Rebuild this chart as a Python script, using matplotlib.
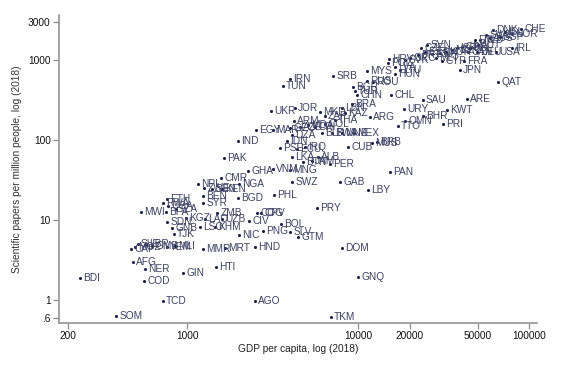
import matplotlib
matplotlib.use("Agg")
import matplotlib.pyplot as plt
from matplotlib.ticker import FixedLocator, FixedFormatter, NullLocator

plt.rcParams['font.family'] = ['Liberation Sans', 'DejaVu Sans']

# country codes, GDP per capita (2018), scientific papers per million people (2018)
codes = ["BDI", "SOM", "TCD", "COD", "NER", "AFG", "GIN", "HTI", "MMR", "MRT",
         "HND", "DOM", "GNQ", "AGO", "TKM", "CAF", "MOZ", "SLE", "LBR", "GMB",
         "YEM", "MLI", "ETH", "MWI", "RWA", "UGA", "TZA", "BFA", "ZMB", "SDN",
         "GNB", "TJK", "LSO", "KHM", "KGZ", "LAO", "UZB", "CIV", "COG", "CPV",
         "NIC", "PNG", "BOL", "SLV", "GTM", "PRY", "PHL", "SWZ", "GAB", "LBY",
         "PAN", "VNM", "MNG", "GHA", "CMR", "NGA", "NPL", "ZWE", "SEN", "KEN",
         "BEN", "SYR", "BGD", "PAK", "IND", "LKA", "BTN", "JAM", "ALB", "PER",
         "IDN", "PSE", "ECU", "IRQ", "CUB", "MUS", "BRB", "DZA", "EGY", "MAR",
         "GEO", "AZE", "MDA", "CRI", "COL", "ARM", "THA", "BLR", "BWA", "MNE",
         "MEX", "ZAF", "MKD", "LBN", "KAZ", "BRA", "ARG", "UKR", "JOR", "IRN",
         "TUN", "SRB", "MYS", "RUS", "ROU", "BGR", "TUR", "CHN", "CHL", "SAU",
         "ARE", "QAT", "URY", "KWT", "OMN", "BHR", "TTO", "PRI", "JPN", "FRA",
         "IRL", "CHE", "DNK", "SWE", "SGP", "NOR", "NLD", "AUS", "FIN", "ISL",
         "AUT", "BEL", "DEU", "USA", "GBR", "CAN", "NZL", "ISR", "KOR", "ITA",
         "ESP", "CYP", "SVN", "CZE", "EST", "PRT", "GRC", "MLT", "SVK", "HRV",
         "POL", "LVA", "LTU", "HUN"]

gdp = [237, 385, 724, 561, 568, 483, 947, 1478, 1240, 1667,
       2500, 8050, 10000, 2500, 6950, 471, 496, 516, 575, 623,
       764, 851, 764, 538, 724, 775, 863, 754, 1498, 764,
       817, 840, 1191, 1458, 987, 1275, 1602, 2306, 2564, 2710,
       2014, 2780, 3548, 4000, 4457, 5757, 3228, 4111, 7855, 11430,
       15380, 3185, 4000, 2275, 1580, 2014, 1160, 1257, 1400, 1602,
       1240, 1240, 1988, 1645, 1988, 4111, 4768, 5387, 5834, 6855,
       3845, 3497, 4397, 4898, 8750, 12080, 12900, 4111, 2534, 3185,
       4000, 4580, 5110, 5610, 6410, 4227, 7330, 6150, 7050, 8050,
       9480, 6410, 5995, 8050, 8400, 9230, 11750, 3098, 4285, 4000,
       3637, 7145, 11300, 11300, 12250, 9350, 9600, 9860, 15600, 23990,
       43350, 65900, 18580, 33150, 18840, 23990, 17130, 31400, 39450, 41720,
       79600, 89800, 61500, 56100, 67600, 79600, 51600, 59100, 48300, 72400,
       50350, 45200, 49650, 64100, 40550, 43950, 35480, 37930, 32700, 30190,
       27100, 30980, 25360, 23360, 24680, 22450, 20160, 28580, 18840, 15170,
       14960, 16430, 17620, 16430]

papers = [1.88, 0.63, 0.97, 1.73, 2.44, 2.99, 2.18, 2.59, 4.34, 4.47,
          4.60, 4.47, 1.94, 0.97, 0.61, 4.34, 4.60, 5.01, 5.01, 4.73,
          4.60, 4.73, 18.3, 12.6, 16.3, 15.0, 13.7, 12.6, 12.2, 9.44,
          7.94, 6.68, 8.18, 8.18, 10.6, 10.3, 10.3, 9.72, 12.2, 12.2,
          6.49, 7.29, 8.91, 7.08, 6.13, 14.1, 20.5, 29.9, 29.9, 23.7,
          39.8, 43.4, 42.2, 41.0, 33.5, 28.2, 28.2, 25.1, 24.4, 24.4,
          20.0, 16.3, 18.8, 59.6, 97.2, 61.3, 53.1, 54.7, 61.3, 50.1,
          97.2, 79.4, 77.2, 81.7, 81.7, 91.8, 94.4, 115, 133, 133,
          141, 145, 154, 145, 158, 173, 178, 122, 122, 122,
          122, 200, 224, 251, 218, 282, 194, 230, 251, 579,
          473, 631, 729, 546, 531, 459, 410, 365, 365, 316,
          325, 531, 244, 237, 173, 200, 150, 158, 750, 972,
          1413, 2440, 2371, 2054, 1939, 2113, 1778, 1884, 1778, 2239,
          1540, 1413, 1259, 1259, 1454, 1259, 1334, 1413, 1259, 1223,
          1189, 972, 1540, 1413, 1259, 1155, 1059, 1059, 1000, 1029,
          917, 818, 750, 668]

x_ticks = [200, 1000, 10000, 20000, 50000, 100000]
x_labels = ["200", "1000", "10000", "20000", "50000", "100000"]
y_ticks = [0.6, 1, 10, 100, 1000, 3000]
y_labels = [".6", "1", "10", "100", "1000", "3000"]

fig = plt.figure(figsize=(5.8, 3.86), dpi=100)
ax = fig.add_axes([0.1017, 0.163, 0.8243, 0.798])

dot_col = "#1c2151"
txt_col = "#3c4266"
ax.scatter(gdp, papers, s=5, color=dot_col, linewidths=0, zorder=3)
for c, g, p in zip(codes, gdp, papers):
    ax.annotate(c, (g, p), xytext=(2.2, 0), textcoords="offset points",
                ha="left", va="center", fontsize=7.3, color=txt_col)

ax.set_xscale("log")
ax.set_yscale("log")
ax.set_xlim(178, 111500)
ax.set_ylim(0.516, 3650)

ax.xaxis.set_major_locator(FixedLocator(x_ticks))
ax.xaxis.set_major_formatter(FixedFormatter(x_labels))
ax.xaxis.set_minor_locator(NullLocator())
ax.yaxis.set_major_locator(FixedLocator(y_ticks))
ax.yaxis.set_major_formatter(FixedFormatter(y_labels))
ax.yaxis.set_minor_locator(NullLocator())

for s in ["top", "right"]:
    ax.spines[s].set_visible(False)
for s in ["left", "bottom"]:
    ax.spines[s].set_color("#8c8c8c")
    ax.spines[s].set_linewidth(1.1)
ax.tick_params(colors="#8c8c8c", labelcolor="#111111", length=4,
               width=0.9, labelsize=7.3, pad=2)

ax.set_xlabel("GDP per capita, log (2018)", fontsize=7.3, color="#222222")
ax.set_ylabel("Scientific papers per million people, log (2018)",
              fontsize=7.3, color="#333333")
ax.xaxis.set_label_coords(0.5, -0.068)
ax.yaxis.set_label_coords(-0.078, 0.5)

fig.savefig("out.png", dpi=100)
